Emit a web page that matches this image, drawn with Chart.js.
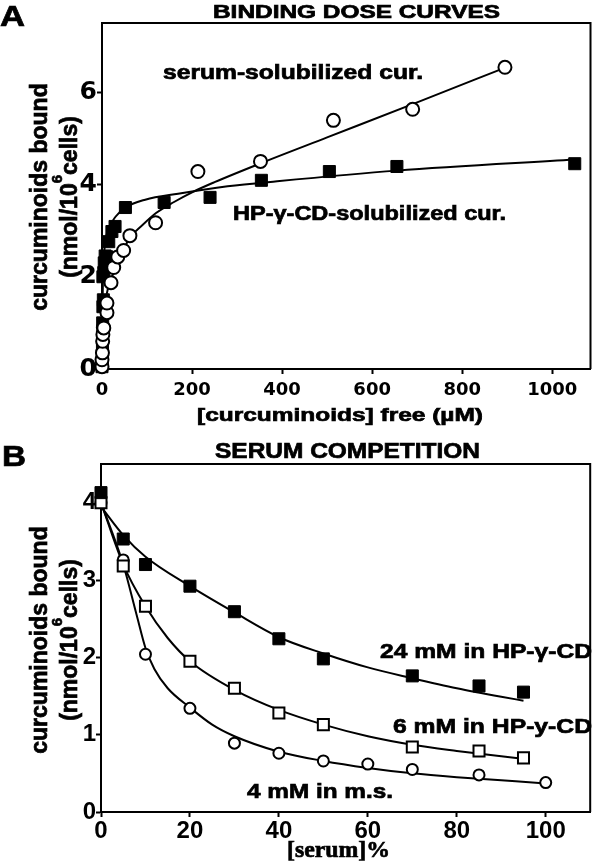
<!DOCTYPE html>
<html>
<head>
<meta charset="utf-8">
<script src="https://cdn.jsdelivr.net/npm/chart.js@4"></script>
<style>
  html, body { margin: 0; padding: 0; background: #fff; }
  canvas { position: absolute; left: 0; }
  #chartA { top: 0; }
  #chartB { top: 430px; }
</style>
</head>
<body>
<canvas id="chartA" width="600" height="430"></canvas>
<canvas id="chartB" width="600" height="437"></canvas>
<script>
const SANS = '"Liberation Sans", Arial, sans-serif';
const WIDE = '"DejaVu Sans", sans-serif';
const SERIF = '"Liberation Serif", "Times New Roman", serif';

// --- Panel A: binding dose curves (free uM vs nmol/10^6 cells)
const serumFreeX  = [0, 0, 1, 1.5, 2, 3, 4, 11, 11, 20, 26, 35, 48, 62, 119, 213, 352, 514, 690, 895];
const serumBoundY = [0.05, 0.2, 0.35, 0.6, 0.75, 0.9, 0.89, 1.22, 1.43, 1.87, 2.2, 2.43, 2.57, 2.89, 3.17, 4.28, 4.5, 5.39, 5.63, 6.54];
const cdFreeX  = [0, 0.5, 0.5, 1, 1, 1.5, 2, 3, 2, 4, 5, 7, 11, 15, 22, 29, 52, 138, 240, 354, 505, 655, 1050];
const cdBoundY = [0.05, 0.15, 0.3, 0.5, 0.7, 1.0, 1.35, 1.5, 2.0, 2.09, 2.3, 2.45, 2.43, 2.76, 2.98, 3.09, 3.5, 3.61, 3.72, 4.09, 4.28, 4.39, 4.45];

const serumFitX = [0, 1, 2, 4, 7, 11, 16, 22, 37, 60, 90, 120, 160, 200, 250, 350, 500, 700, 900];
const serumFitY = [0, 0.4, 0.7, 1.15, 1.45, 1.65, 1.85, 2.0, 2.33, 2.82, 3.12, 3.38, 3.62, 3.83, 4.05, 4.45, 5.02, 5.78, 6.55];
const cdFitX = [0, 0.5, 1, 2, 4, 8, 15, 30, 52, 96, 169, 279, 389, 655, 1050];
const cdFitY = [0, 0.7, 1.3, 1.9, 2.4, 2.8, 3.05, 3.3, 3.5, 3.67, 3.8, 3.96, 4.07, 4.3, 4.54];

const ticksAX = [0, 200, 400, 600, 800, 1000];
const ticksAY = [0, 2, 4, 6];

// --- Panel B: serum competition (% serum vs nmol/10^6 cells)
const serumPct24 = [0, 5, 10, 20, 30, 40, 50, 70, 85, 95];
const bound24 = [4.13, 3.53, 3.2, 2.92, 2.59, 2.24, 1.98, 1.76, 1.63, 1.55];
const serumPct6 = [0, 5, 10, 20, 30, 40, 50, 70, 85, 95];
const bound6 = [4.0, 3.18, 2.66, 1.95, 1.6, 1.28, 1.13, 0.84, 0.79, 0.7];
const serumPct4 = [0, 5, 10, 20, 30, 40, 50, 60, 70, 85, 100];
const bound4 = [4.0, 3.26, 2.04, 1.34, 0.89, 0.76, 0.66, 0.62, 0.55, 0.48, 0.38];

const fit24X = [0, 5, 10, 20, 30, 40, 50, 60, 70, 80, 90, 95];
const fit24Y = [3.95, 3.58, 3.3, 2.92, 2.58, 2.26, 2.05, 1.87, 1.73, 1.6, 1.49, 1.44];
const fit6X = [0, 5, 10, 15, 20, 30, 40, 50, 60, 70, 80, 90, 95];
const fit6Y = [4.0, 3.2, 2.66, 2.25, 1.95, 1.58, 1.32, 1.13, 0.98, 0.87, 0.79, 0.72, 0.69];
const fit4X = [0, 5, 8, 10, 12, 15, 20, 25, 30, 40, 50, 60, 70, 80, 90, 100];
const fit4Y = [4.0, 3.2, 2.55, 2.12, 1.85, 1.6, 1.35, 1.13, 0.98, 0.78, 0.66, 0.57, 0.5, 0.45, 0.41, 0.37];

const ticksBX = [0, 20, 40, 60, 80, 100];
const ticksBY = [0, 1, 2, 3, 4];

const pts = (xs, ys) => xs.map((x, i) => ({ x: x, y: ys[i] }));

function curve(xs, ys) {
  return {
    data: pts(xs, ys), showLine: true, pointRadius: 0, borderColor: '#000',
    borderWidth: 2, cubicInterpolationMode: 'monotone', fill: false, clip: false
  };
}
function marks(xs, ys, style, r, fill, bw) {
  return {
    data: pts(xs, ys), showLine: false, pointStyle: style, pointRadius: r,
    backgroundColor: fill, borderColor: '#000', borderWidth: bw, clip: false
  };
}

// text squeezed/stretched to a given width, left aligned on baseline
function fitText(ctx, text, left, base, size, width, fam) {
  ctx.save();
  ctx.font = 'bold ' + size + 'px ' + (fam || SANS);
  const w = ctx.measureText(text).width;
  ctx.translate(left, base);
  ctx.scale(width / w, 1);
  ctx.textAlign = 'left';
  ctx.textBaseline = 'alphabetic';
  ctx.fillStyle = '#000';
  ctx.strokeStyle = '#000';
  ctx.lineWidth = 0.7;
  ctx.fillText(text, 0, 0);
  ctx.strokeText(text, 0, 0);
  ctx.restore();
}

function yTitle(ctx, x1, x2, cy) {
  ctx.save();
  ctx.fillStyle = '#000';
  ctx.strokeStyle = '#000';
  ctx.lineWidth = 0.7;
  ctx.textBaseline = 'alphabetic';
  ctx.font = 'bold 23px ' + SANS;
  ctx.save();
  ctx.translate(x1, cy);
  ctx.rotate(-Math.PI / 2);
  ctx.textAlign = 'center';
  ctx.fillText('curcuminoids bound', 0, 0);
  ctx.strokeText('curcuminoids bound', 0, 0);
  ctx.restore();

  const a = '(nmol/10', s = '6', b = 'cells)';
  const wa = ctx.measureText(a).width, wb = ctx.measureText(b).width;
  ctx.font = 'bold 15px ' + SANS;
  const ws = ctx.measureText(s).width;
  const total = wa + ws + wb;
  ctx.translate(x2, cy);
  ctx.rotate(-Math.PI / 2);
  ctx.textAlign = 'left';
  const parts = [[a, 23, 0, wa], [s, 15, -15, ws], [b, 23, 0, wb]];
  let x = -total / 2;
  parts.forEach(p => {
    ctx.font = 'bold ' + p[1] + 'px ' + SANS;
    ctx.fillText(p[0], x, p[2]);
    ctx.strokeText(p[0], x, p[2]);
    x += p[3];
  });
  ctx.restore();
}

function frame(chart) {
  const ctx = chart.ctx, a = chart.chartArea;
  ctx.save();
  ctx.strokeStyle = '#000';
  ctx.lineWidth = 2;
  ctx.beginPath();
  ctx.moveTo(a.left, a.top);
  ctx.lineTo(a.right, a.top);
  ctx.lineTo(a.right, a.bottom);
  ctx.stroke();
  ctx.restore();
}

function axes(xmax, xticks, ymax, yticks, xFont, yFont, yW, xH, xPad) {
  return {
    x: {
      type: 'linear', min: 0, max: xmax,
      afterBuildTicks: s => { s.ticks = xticks.map(v => ({ value: v })); },
      afterFit: s => { s.height = xH; },
      ticks: { color: '#000', font: xFont, padding: xPad, maxRotation: 0, autoSkip: false, callback: v => String(v) },
      grid: { drawOnChartArea: false, drawTicks: true, tickLength: 5, tickWidth: 2, tickColor: '#000' },
      border: { display: true, color: '#000', width: 2 }
    },
    y: {
      type: 'linear', min: 0, max: ymax,
      afterBuildTicks: s => { s.ticks = yticks.map(v => ({ value: v })); },
      afterFit: s => { s.width = yW; },
      ticks: { color: '#000', font: yFont, padding: 0, autoSkip: false, callback: v => String(v) },
      grid: { drawOnChartArea: false, drawTicks: true, tickLength: 5, tickWidth: 2, tickColor: '#000' },
      border: { display: true, color: '#000', width: 2 }
    }
  };
}

new Chart(document.getElementById('chartA').getContext('2d'), {
  type: 'scatter',
  data: {
    datasets: [
      marks(serumFreeX, serumBoundY, 'circle', 6.5, '#fff', 2),
      marks(cdFreeX, cdBoundY, 'rect', 8.5, '#000', 1),
      curve(serumFitX, serumFitY),
      curve(cdFitX, cdFitY)
    ]
  },
  options: {
    responsive: false, animation: false, events: [],
    layout: { padding: { left: 0, top: 23, right: 3, bottom: 0 } },
    plugins: { legend: { display: false }, tooltip: { enabled: false } },
    scales: axes(1085, ticksAX, 7.5, ticksAY,
      { family: WIDE, size: 18, weight: 'bold' },
      { family: WIDE, size: 25, weight: 'bold' }, 102, 61, 6)
  },
  plugins: [{
    id: 'textA',
    afterDraw(chart) {
      const ctx = chart.ctx;
      frame(chart);
      fitText(ctx, 'A', 0, 26, 29, 25);
      fitText(ctx, 'BINDING DOSE CURVES', 213, 18, 19, 287);
      fitText(ctx, 'serum-solubilized cur.', 163, 79, 20, 260);
      fitText(ctx, 'HP-\u03b3-CD-solubilized cur.', 233, 220, 20, 273);
      fitText(ctx, '[curcuminoids] free (\u00b5M)', 197, 421, 19, 286);
      yTitle(ctx, 47, 77, 197);
    }
  }]
});

new Chart(document.getElementById('chartB').getContext('2d'), {
  type: 'scatter',
  data: {
    datasets: [
      marks(serumPct24, bound24, 'rect', 8.5, '#000', 1),
      marks(serumPct6, bound6, 'rect', 7.8, '#fff', 2),
      marks(serumPct4, bound4, 'circle', 5.5, '#fff', 2),
      curve(fit24X, fit24Y),
      curve(fit6X, fit6Y),
      curve(fit4X, fit4Y)
    ]
  },
  options: {
    responsive: false, animation: false, events: [],
    layout: { padding: { left: 0, top: 34, right: 4, bottom: 0 } },
    plugins: { legend: { display: false }, tooltip: { enabled: false } },
    scales: axes(110, ticksBX, 4.5, ticksBY,
      { family: SANS, size: 24, weight: 'bold' },
      { family: SANS, size: 24, weight: 'bold' }, 101, 55, 0)
  },
  plugins: [{
    id: 'textB',
    afterDraw(chart) {
      const ctx = chart.ctx;
      frame(chart);
      const o = 430;
      fitText(ctx, 'B', 2, 466 - o, 29, 24);
      fitText(ctx, 'SERUM COMPETITION', 215, 458 - o, 22, 265);
      fitText(ctx, '24 mM in HP-\u03b3-CD', 380, 658 - o, 21, 212);
      fitText(ctx, '6 mM in HP-y-CD', 393, 733 - o, 21, 199);
      fitText(ctx, '4 mM in m.s.', 247, 798 - o, 21, 146);
      fitText(ctx, '[serum]%', 287, 857 - o, 24, 103, SERIF);
      yTitle(ctx, 47, 77, 640 - o);
    }
  }]
});
</script>
</body>
</html>
